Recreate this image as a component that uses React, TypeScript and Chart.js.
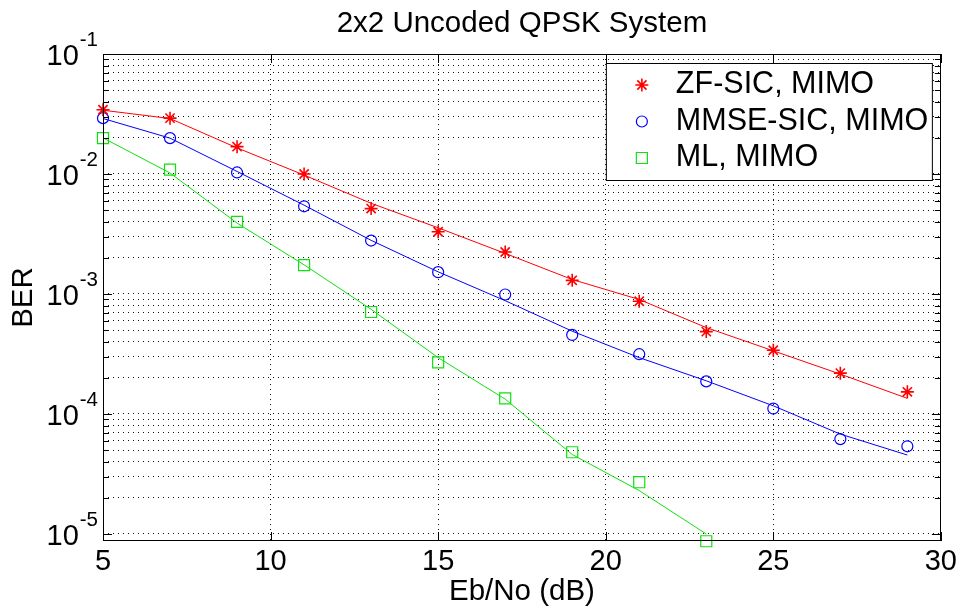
import React, { useEffect, useRef } from 'react';
import { Chart, registerables } from 'chart.js';
import { drawPoint } from 'chart.js/helpers';

Chart.register(...registerables);

const FONT = "'Liberation Sans', Arial, Helvetica, sans-serif";

// ---- data ----
const titleText = '2x2 Uncoded QPSK System';
const xTitle = 'Eb/No (dB)';
const yTitle = 'BER';

const snrPoints = [5, 7, 9, 11, 13, 15, 17, 19, 21, 23, 25, 27, 29];
const zfSicMeasured = [0.0343, 0.0292, 0.0169, 0.0100, 0.00515, 0.0033, 0.00224, 0.0013, 0.00087, 0.000486, 0.00034, 0.000219, 0.000153];
const zfSicFit = [0.0340, 0.0290, 0.0165, 0.0098, 0.0057, 0.00356, 0.00218, 0.00132, 0.0009, 0.000525, 0.000336, 0.000215, 0.000135];
const mmseSicMeasured = [0.0292, 0.0199, 0.0103, 0.00538, 0.00279, 0.00152, 0.00099, 0.000456, 0.000315, 0.000187, 0.000111, 0.0000618, 0.0000538];
const mmseSicFit = [0.0290, 0.0199, 0.0105, 0.0055, 0.0028, 0.00153, 0.00088, 0.00049, 0.000295, 0.000189, 0.000117, 0.000068, 0.0000455];

const mlSnr = [5, 7, 9, 11, 13, 15, 17, 19, 21, 23];
const mlMeasured = [0.0199, 0.01086, 0.00399, 0.00174, 0.000708, 0.000269, 0.000135, 0.000048, 0.000027, 0.0000087];
const mlFit = [0.0200, 0.0102, 0.0039, 0.00175, 0.000745, 0.000295, 0.000133, 0.000046, 0.000023, 0.00001];

const seriesLabels = ['ZF-SIC, MIMO', 'MMSE-SIC, MIMO', 'ML, MIMO'];

const xTicks = [5, 10, 15, 20, 25, 30];
const yDecades = [1e-5, 1e-4, 1e-3, 1e-2, 1e-1];
const yDecadeExponents = ['-5', '-4', '-3', '-2', '-1'];
const yMinorMultipliers = [2, 3, 4, 5, 6, 7, 8, 9];

const RED = '#ff0000';
const BLUE = '#0000ff';
const GREEN = '#10e010';

const pts = (xs: number[], ys: number[]) => xs.map((x, i) => ({ x, y: ys[i] }));

const yTickValues: number[] = [];
yDecades.forEach((d, i) => {
  yTickValues.push(d);
  if (i < yDecades.length - 1) yMinorMultipliers.forEach((m) => yTickValues.push(+(m * d).toPrecision(3)));
});

const isDecade = (v: number) => yDecades.some((d) => Math.abs(v - d) / d < 1e-6);

const framePlugin = {
  id: 'frame',
  afterDraw(chart: any) {
    const { ctx, chartArea: a, scales } = chart;
    const ys = scales.y;
    const xs = scales.x;
    ctx.save();
    // title
    ctx.fillStyle = '#000';
    ctx.font = `29.5px ${FONT}`;
    ctx.textAlign = 'center';
    ctx.textBaseline = 'alphabetic';
    ctx.fillText(titleText, (a.left + a.right) / 2, 32);

    // box
    ctx.strokeStyle = '#000';
    ctx.lineWidth = 1;
    ctx.strokeRect(Math.round(a.left) + 0.5, Math.round(a.top) + 0.5, Math.round(a.right - a.left) - 1, Math.round(a.bottom - a.top) - 1);
    // inner tick marks
    ctx.beginPath();
    yTickValues.forEach((v) => {
      const y = Math.round(ys.getPixelForValue(v)) + 0.5;
      const len = isDecade(v) ? 9 : 6;
      ctx.moveTo(a.left, y); ctx.lineTo(a.left + len, y);
      ctx.moveTo(a.right, y); ctx.lineTo(a.right - len, y);
    });
    xTicks.forEach((v) => {
      const x = Math.round(xs.getPixelForValue(v)) + 0.5;
      ctx.moveTo(x, a.bottom); ctx.lineTo(x, a.bottom - 9);
      ctx.moveTo(x, a.top); ctx.lineTo(x, a.top + 9);
    });
    ctx.stroke();

    // y tick labels with superscript exponents
    ctx.fillStyle = '#000';
    ctx.textBaseline = 'alphabetic';
    ctx.textAlign = 'right';
    yDecades.forEach((d, i) => {
      const y = ys.getPixelForValue(d);
      const rightEdge = a.left - 5;
      ctx.font = `20.5px ${FONT}`;
      const expW = ctx.measureText(yDecadeExponents[i]).width;
      ctx.fillText(yDecadeExponents[i], rightEdge, y - 8);
      ctx.font = `29px ${FONT}`;
      ctx.fillText('10', rightEdge - expW - 1, y + 11);
    });

    // legend
    const lx = a.right - 335;
    const ly = a.top + 9;
    const lw = 326;
    const lh = 117;
    ctx.fillStyle = '#fff';
    ctx.fillRect(lx, ly, lw, lh);
    ctx.strokeStyle = '#000';
    ctx.lineWidth = 1;
    ctx.strokeRect(lx + 0.5, ly + 0.5, lw, lh);
    const entries = chart.data.datasets.filter((ds: any) => ds.legendEntry);
    entries.forEach((ds: any, i: number) => {
      const cy = ly + 22 + i * 36.5;
      ctx.strokeStyle = ds.pointBorderColor;
      ctx.fillStyle = 'rgba(0,0,0,0)';
      ctx.lineWidth = ds.pointBorderWidth;
      drawPoint(ctx, { pointStyle: ds.pointStyle, radius: ds.pointRadius, rotation: 0, borderWidth: ds.pointBorderWidth }, lx + 36, cy);
      ctx.fillStyle = '#000';
      ctx.textAlign = 'left';
      ctx.textBaseline = 'middle';
      ctx.font = `30.5px ${FONT}`;
      ctx.fillText(ds.label, lx + 70, cy);
    });
    ctx.restore();
  },
};

export default function App() {
  const canvasRef = useRef<HTMLCanvasElement | null>(null);

  useEffect(() => {
    if (!canvasRef.current) return;
    const markerDs = (label: string, xs: number[], ys: number[], color: string, style: string, radius: number, bw: number) => ({
      type: 'line',
      label,
      data: pts(xs, ys),
      showLine: false,
      pointStyle: style,
      pointRadius: radius,
      pointBorderWidth: bw,
      pointBorderColor: color,
      pointBackgroundColor: 'rgba(0,0,0,0)',
      borderColor: color,
      backgroundColor: 'rgba(0,0,0,0)',
      clip: false,
      legendEntry: true,
    });
    const fitDs = (label: string, xs: number[], ys: number[], color: string) => ({
      type: 'line',
      label,
      data: pts(xs, ys),
      borderColor: color,
      borderWidth: 1,
      pointRadius: 0,
      tension: 0,
      fill: false,
      legendEntry: false,
    });

    const chart = new Chart(canvasRef.current, {
      type: 'line',
      data: {
        datasets: [
          fitDs('ZF-SIC fit', snrPoints, zfSicFit, RED),
          fitDs('MMSE-SIC fit', snrPoints, mmseSicFit, BLUE),
          fitDs('ML fit', mlSnr, mlFit, GREEN),
          markerDs(seriesLabels[0], snrPoints, zfSicMeasured, RED, 'star', 6.5, 1.6),
          markerDs(seriesLabels[1], snrPoints, mmseSicMeasured, BLUE, 'circle', 5.5, 1.2),
          markerDs(seriesLabels[2], mlSnr, mlMeasured, GREEN, 'rect', 7.8, 1.2),
        ] as any,
      },
      options: {
        animation: false,
        responsive: false,
        devicePixelRatio: 1,
        layout: { padding: { left: 0, right: 19, top: 54, bottom: 0 } },
        plugins: {
          legend: { display: false },
          tooltip: { enabled: false },
          title: { display: false },
        },
        scales: {
          x: {
            type: 'linear',
            min: 5,
            max: 30,
            ticks: { stepSize: 5, color: '#000', font: { family: FONT, size: 29 }, padding: 4, maxRotation: 0 },
            grid: { color: '#111', lineWidth: 1, drawTicks: false },
            border: { display: false, dash: [1, 4] },
            title: { display: true, text: xTitle, color: '#000', font: { family: FONT, size: 29.5 }, padding: { top: 0, bottom: 2 } },
            afterFit: (s: any) => { s.height = 71; },
          },
          y: {
            type: 'logarithmic',
            min: 8.743e-6,
            max: 0.1,
            afterBuildTicks: (s: any) => { s.ticks = yTickValues.map((v) => ({ value: v })); },
            ticks: { display: false },
            grid: { color: '#111', lineWidth: 1, drawTicks: false },
            border: { display: false, dash: [1, 4] },
            title: { display: true, text: yTitle, color: '#000', font: { family: FONT, size: 29.5 }, padding: { top: 6, bottom: 0 } },
            afterFit: (s: any) => { s.width = 103; },
          },
        },
      } as any,
      plugins: [framePlugin],
    });
    return () => chart.destroy();
  }, []);

  return (
    <div style={{ position: 'fixed', left: 0, top: 0, width: 961, height: 612, background: '#fff' }}>
      <canvas ref={canvasRef} width={961} height={612} style={{ display: 'block' }} />
    </div>
  );
}
